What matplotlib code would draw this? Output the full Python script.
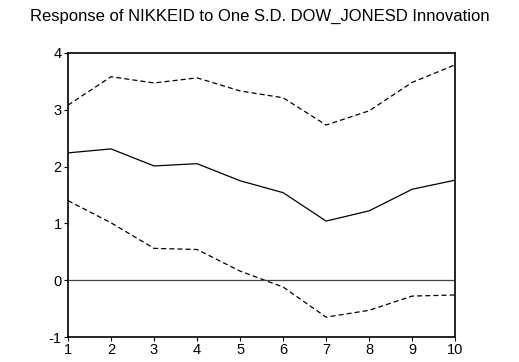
import numpy as np
import matplotlib.pyplot as plt

plt.rcParams['font.family'] = ['Liberation Sans', 'DejaVu Sans']
plt.rcParams['axes.unicode_minus'] = False

periods = [1, 2, 3, 4, 5, 6, 7, 8, 9, 10]
response = [2.24, 2.31, 2.01, 2.05, 1.75, 1.54, 1.04, 1.22, 1.60, 1.76]
upper = [3.08, 3.58, 3.47, 3.56, 3.33, 3.21, 2.73, 2.98, 3.48, 3.79]
lower = [1.40, 1.01, 0.56, 0.54, 0.16, -0.12, -0.65, -0.53, -0.28, -0.26]
title = 'Response of NIKKEID to One S.D. DOW_JONESD Innovation'

fig = plt.figure(figsize=(5.19, 3.62), dpi=100)
ax = fig.add_axes([0.131, 0.069, 0.746, 0.785])

ax.plot(periods, response, color='black', linewidth=0.9)
ax.plot(periods, upper, color='black', linewidth=0.9, linestyle=(0, (4, 2.5)))
ax.plot(periods, lower, color='black', linewidth=0.9, linestyle=(0, (4, 2.5)))
ax.axhline(0, color='#444444', linewidth=0.9)

ax.set_xlim(1, 10)
ax.set_ylim(-1, 4)
ax.set_xticks(periods)
ax.set_yticks([-1, 0, 1, 2, 3, 4])
ax.tick_params(direction='out', length=3, width=0.8, labelsize=10.5, pad=1.5, colors='black')
for s in ax.spines.values():
    s.set_linewidth(1.2)

fig.text(0.5, 0.955, title, ha='center', va='center', fontsize=12)

fig.savefig('out.png', dpi=100)
